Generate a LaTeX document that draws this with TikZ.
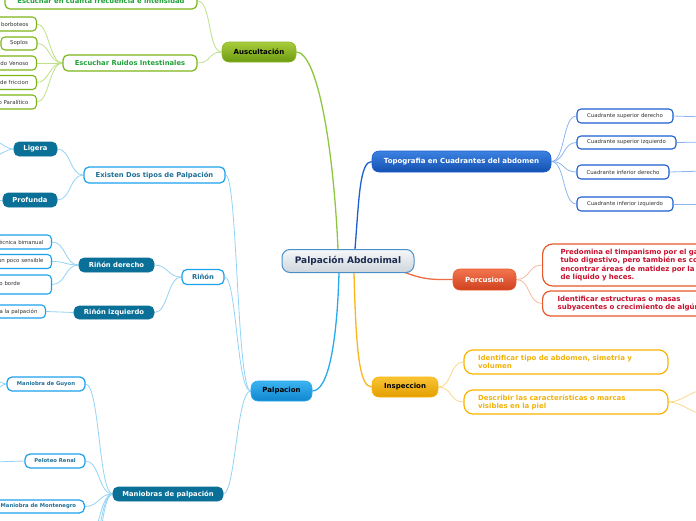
\documentclass[tikz,border=0pt]{standalone}
\usepackage{fontspec}
\setmainfont{DejaVu Sans}
\usetikzlibrary{calc}
\pgfdeclarelayer{bg}
\pgfsetlayers{bg,main}
\definecolor{cenB}{HTML}{4A90C8}
\definecolor{cenT}{HTML}{1B2A4E}
\definecolor{cenTop}{HTML}{F6F8FA}
\definecolor{cenBot}{HTML}{CDD5DC}
\definecolor{gTop}{HTML}{A8CC3C}
\definecolor{gBot}{HTML}{6C9A10}
\definecolor{gBorder}{HTML}{8CB82A}
\definecolor{gMain}{HTML}{8DC63F}
\definecolor{gSub}{HTML}{BDE08A}
\definecolor{gBox}{HTML}{7CB518}
\definecolor{gText}{HTML}{22A03A}
\definecolor{dbTop}{HTML}{3C82E2}
\definecolor{dbBot}{HTML}{1450B0}
\definecolor{dbMain}{HTML}{1C5FCF}
\definecolor{dbSub}{HTML}{8DB4EE}
\definecolor{oTop}{HTML}{F27650}
\definecolor{oBot}{HTML}{D0401E}
\definecolor{oMain}{HTML}{EF6C44}
\definecolor{oSub}{HTML}{F7B8A0}
\definecolor{oBox}{HTML}{E8572A}
\definecolor{oText}{HTML}{C8102E}
\definecolor{yTop}{HTML}{F9C436}
\definecolor{yBot}{HTML}{E49E00}
\definecolor{yMain}{HTML}{F8B61C}
\definecolor{ySub}{HTML}{FBD889}
\definecolor{yBox}{HTML}{F8B400}
\definecolor{yText}{HTML}{F2B20A}
\definecolor{lbTop}{HTML}{3CB4F2}
\definecolor{lbBot}{HTML}{0F86CE}
\definecolor{lbMain}{HTML}{27A9EE}
\definecolor{lbSub}{HTML}{93D3F5}
\definecolor{lbBox}{HTML}{1BA1EC}
\definecolor{teal}{HTML}{0B7098}
\definecolor{tealT}{HTML}{1D6F98}
\definecolor{leafT}{HTML}{333333}
\begin{document}
\begin{tikzpicture}[x=1pt,y=-1pt,
  cennode/.style={draw=cenB, line width=1pt, rounded corners=8pt, top color=cenTop, bottom color=cenBot,
    text=cenT, font=\bfseries\fontsize{9}{10}\selectfont, inner sep=0pt},
  lvlone/.style={rounded corners=7pt, inner sep=0pt, line width=0.6pt, font=\bfseries\fontsize{7}{8}\selectfont},
  wboxG/.style={draw=gBox, fill=white, text=gText, line width=1.2pt, rounded corners=5pt, inner sep=0pt,
    font=\bfseries\fontsize{6.8}{8}\selectfont},
  wboxB/.style={draw=lbBox, fill=white, text=tealT, line width=1.2pt, rounded corners=5pt, inner sep=0pt,
    font=\bfseries\fontsize{6.8}{8}\selectfont},
  wboxBs/.style={wboxB, font=\bfseries\fontsize{5.3}{6}\selectfont},
  tbox/.style={draw=teal, fill=teal, text=white, line width=0.6pt, rounded corners=5pt, inner sep=0pt,
    font=\bfseries\fontsize{6.8}{8}\selectfont},
  leaf/.style={fill=white, text=leafT, line width=1.1pt, rounded corners=4pt, inner sep=0pt,
    font=\fontsize{5.4}{6}\selectfont},
  leafL/.style={leaf, anchor=east, text width=50pt, align=right, inner xsep=8pt},
  pbox/.style={draw=oBox, fill=white, text=oText, line width=1.2pt, rounded corners=10pt, anchor=west,
    text width=175pt, align=left, font=\bfseries\fontsize{7}{8.6}\selectfont},
  ibox/.style={draw=yBox, fill=white, text=yText, line width=1.2pt, rounded corners=9pt,
    minimum width=204pt, minimum height=24pt, text width=176pt, inner xsep=14pt, inner ysep=0pt, align=left,
    font=\bfseries\fontsize{7}{8}\selectfont},
  mline/.style={line width=1.3pt},
  sline/.style={line width=0.8pt}
]
\useasboundingbox (0,0) rectangle (696,520);

% central
\node[cennode, minimum width=132pt, minimum height=23pt] (cen) at (348,261) {Palpación Abdonimal};

% first level
\node[lvlone, draw=gBorder, top color=gTop, bottom color=gBot, text=black, minimum width=74pt, minimum height=20pt] (ausc) at (259,52) {Auscultación};
\node[lvlone, draw=dbMain, top color=dbTop, bottom color=dbBot, text=white, minimum width=179pt, minimum height=21pt] (topo) at (461.5,161.5) {Topografia en Cuadrantes del abdomen};
\node[lvlone, draw=oBox, top color=oTop, bottom color=oBot, text=white, minimum width=63pt, minimum height=21pt] (perc) at (484.5,279.5) {Percusion};
\node[lvlone, draw=yBox, top color=yTop, bottom color=yBot, text=black, minimum width=66pt, minimum height=20pt] (insp) at (405,387) {Inspeccion};
\node[lvlone, draw=lbMain, top color=lbTop, bottom color=lbBot, text=black, minimum width=61pt, minimum height=20pt] (palp) at (281.5,391) {Palpacion};

% Auscultacion subtree
\node[wboxG, minimum width=192pt, minimum height=16pt] (esc1) at (101,1) {Escuchar en cuanta frecuencia e intensidad};
\node[wboxG, minimum width=134pt, minimum height=16pt] (esc2) at (130,63) {Escuchar Ruidos Intestinales};
\node[leafL, draw=gBox, minimum height=14pt] (ga) at (37,24) {borboteos};
\node[leaf, draw=gBox, minimum width=36pt, minimum height=13pt] (gb) at (19,43.5) {Soplos};
\node[leafL, draw=gBox, minimum height=14pt] (gc) at (37,63) {do Venoso};
\node[leafL, draw=gBox, minimum height=14pt] (gd) at (37,82.5) {de friccion};
\node[leafL, draw=gBox, minimum height=14pt] (ge) at (37,102) {o Paralítico};

% Topografia subtree
\node[leaf, draw=dbMain, minimum width=96pt, minimum height=14pt] (csd) at (625,116) {Cuadrante superior derecho};
\node[leaf, draw=dbMain, minimum width=99pt, minimum height=13pt] (csi) at (626.5,142.5) {Cuadrante superior izquierdo};
\node[leaf, draw=dbMain, minimum width=92pt, minimum height=14pt] (cid) at (623,172) {Cuadrante inferior derecho};
\node[leaf, draw=dbMain, minimum width=96pt, minimum height=14pt] (cii) at (625,204) {Cuadrante inferior izquierdo};

% Percusion subtree
\node[pbox, minimum height=42pt, inner xsep=18pt, inner ysep=0pt] (pc1) at (542,265)
  {Predomina el timpanismo por el ga\\tubo digestivo, pero también es co\\encontrar áreas de matidez por la\\de líquido y heces.};
\node[pbox, rounded corners=8pt, minimum height=25pt, inner xsep=15pt, inner ysep=0pt] (pc2) at (542,303.5)
  {Identificar estructuras o masas\\subyacentes o crecimiento de algún};

% Inspeccion subtree
\node[ibox] (ic1) at (566,362) {Identificar tipo de abdomen, simetria y\\volumen};
\node[ibox] (ic2) at (566,402) {Describir las características o marcas\\visibles en la piel};

% Palpacion subtree
\node[wboxB, minimum width=141pt, minimum height=16pt] (exist) at (154.5,175) {Existen Dos tipos de Palpación};
\node[tbox, minimum width=43pt, minimum height=14pt] (ligera) at (35.5,149) {Ligera};
\node[tbox, minimum width=54pt, minimum height=14pt] (profunda) at (30,200) {Profunda};
\node[wboxB, minimum width=42pt, minimum height=15pt] (rinon) at (203,277) {Riñón};
\node[tbox, minimum width=75pt, minimum height=14pt] (rder) at (116.5,265) {Riñón derecho};
\node[tbox, minimum width=80pt, minimum height=13pt] (rizq) at (114,312.5) {Riñón izquierdo};
\node[leafL, draw=lbBox, minimum height=14pt] (ra) at (52,242) {técnica bimanual};
\node[leafL, draw=lbBox, minimum height=14pt] (rb) at (52,261.5) {un poco sensible};
\node[leafL, draw=lbBox, minimum height=19pt, text width=44pt, align=left] (rc) at (52,284.5) {\raisebox{2.5pt}{o borde}};
\node[leafL, draw=lbBox, minimum height=13pt] (rd) at (46,311.5) {a la palpación};
\node[tbox, minimum width=110pt, minimum height=14pt] (man) at (168,494) {Maniobras de palpación};
\node[wboxBs, minimum width=78pt, minimum height=14pt] (guyon) at (46,384) {Maniobra de Guyon};
\node[wboxBs, minimum width=60pt, minimum height=14pt] (pelo) at (55,461) {Peloteo Renal};
\node[wboxBs, anchor=east, minimum width=92pt, minimum height=13pt] (monte) at (85,506.5) {Maniobra de Montenegro};

% free ends
\coordinate (lf1) at (-6,141);
\coordinate (lf2) at (-6,156);
\coordinate (pf) at (-6,200);
\coordinate (gy1) at (-6,380);
\coordinate (gy2) at (-6,389);
\coordinate (pe) at (-6,462);
\coordinate (md1) at (85,545);
\coordinate (md2) at (85,570);
\coordinate (md3) at (85,600);
\coordinate (q1) at (705,117);
\coordinate (q2) at (705,142);
\coordinate (q3) at (705,171);
\coordinate (q4) at (705,204);
\coordinate (iy1) at (705,390);
\coordinate (iy2) at (705,414);

\begin{pgfonlayer}{bg}
% main branches
\draw[mline, gMain] (ausc.east) .. controls +(20,0) and +(-5,-110) .. ($(cen.north)+(-10,0)$);
\draw[mline, dbMain] ($(cen.north)+(7,0)$) .. controls +(4,-50) and +(-12,0) .. (topo.west);
\draw[mline, lbMain] ($(cen.south)+(-9,0)$) .. controls +(-2,70) and +(16,0) .. (palp.east);
\draw[mline, yMain] ($(cen.south)+(6,0)$) .. controls +(2,80) and +(-12,0) .. (insp.west);
\draw[mline, oMain] ($(cen.south east)+(-11,-1)$) .. controls +(22,8) and +(-22,0) .. (perc.west);

% Auscultacion
\foreach \c in {esc1,esc2}
  \draw[sline, gSub] (ausc.west) .. controls +(-14,0) and +(14,0) .. (\c.east);
\foreach \c in {ga,gb,gc,gd,ge}
  \draw[sline, gSub] (esc2.west) .. controls +(-13,0) and +(12,0) .. (\c.east);

% Topografia
\foreach \c in {csd,csi,cid,cii}
  \draw[sline, dbSub] (topo.east) .. controls +(14,0) and +(-14,0) .. (\c.west);
\draw[sline, dbSub] (csd.east) -- (q1);
\draw[sline, dbSub] (csi.east) -- (q2);
\draw[sline, dbSub] (cid.east) -- (q3);
\draw[sline, dbSub] (cii.east) -- (q4);

% Percusion
\foreach \c in {pc1,pc2}
  \draw[sline, oSub] (perc.east) .. controls +(14,0) and +(-14,0) .. (\c.west);

% Inspeccion
\foreach \c in {ic1,ic2}
  \draw[sline, ySub] (insp.east) .. controls +(14,0) and +(-14,0) .. (\c.west);
\draw[sline, ySub] (ic2.east) .. controls +(14,0) and +(-14,0) .. (iy1);
\draw[sline, ySub] (ic2.east) .. controls +(14,0) and +(-14,0) .. (iy2);

% Palpacion
\foreach \c in {exist,rinon,man}
  \draw[sline, lbSub] (palp.west) .. controls +(-14,0) and +(12,0) .. (\c.east);
\foreach \c in {ligera,profunda}
  \draw[sline, lbSub] (exist.west) .. controls +(-14,0) and +(14,0) .. (\c.east);
\draw[sline, lbSub] (ligera.west) .. controls +(-8,0) and +(6,0) .. (lf1);
\draw[sline, lbSub] (ligera.west) .. controls +(-8,0) and +(6,0) .. (lf2);
\draw[sline, lbSub] (profunda.west) -- (pf);
\foreach \c in {rder,rizq}
  \draw[sline, lbSub] (rinon.west) .. controls +(-14,0) and +(14,0) .. (\c.east);
\foreach \c in {ra,rb,rc}
  \draw[sline, lbSub] (rder.west) .. controls +(-14,0) and +(14,0) .. (\c.east);
\draw[sline, lbSub] (rizq.west) -- (rd.east);
\foreach \c in {guyon,pelo,monte}
  \draw[sline, lbSub] (man.west) .. controls +(-14,0) and +(14,0) .. (\c.east);
\foreach \c in {md1,md2,md3}
  \draw[sline, lbSub] (man.west) .. controls +(-14,0) and +(14,0) .. (\c);
\draw[sline, lbSub] (guyon.west) .. controls +(-4,0) and +(4,0) .. (gy1);
\draw[sline, lbSub] (guyon.west) .. controls +(-4,0) and +(4,0) .. (gy2);
\draw[sline, lbSub] (pelo.west) -- (pe);
\end{pgfonlayer}
\end{tikzpicture}
\end{document}
